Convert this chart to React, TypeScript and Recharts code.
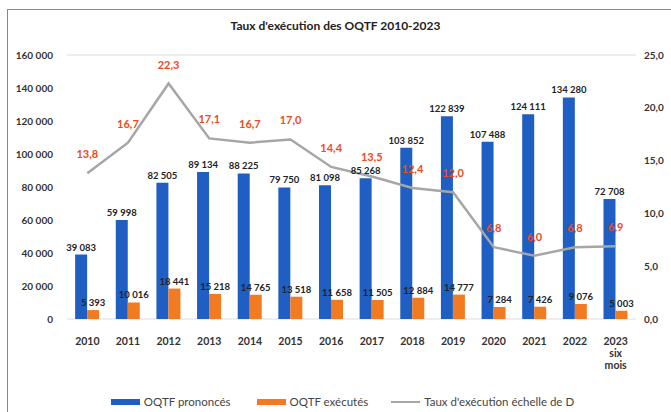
import React from 'react';
import {
  ComposedChart,
  Bar,
  Line,
  XAxis,
  YAxis,
  CartesianGrid,
  Legend,
  LabelList,
} from 'recharts';

const years = [
  '2010', '2011', '2012', '2013', '2014', '2015', '2016',
  '2017', '2018', '2019', '2020', '2021', '2022', '2023 six mois',
];
const prononces = [
  39083, 59998, 82505, 89134, 88225, 79750, 81098,
  85268, 103852, 122839, 107488, 124111, 134280, 72708,
];
const executes = [
  5393, 10016, 18441, 15218, 14765, 13518, 11658,
  11505, 12884, 14777, 7284, 7426, 9076, 5003,
];
const taux = [13.8, 16.7, 22.3, 17.1, 16.7, 17.0, 14.4, 13.5, 12.4, 12.0, 6.8, 6.0, 6.8, 6.9];

const leftTicks = [0, 20000, 40000, 60000, 80000, 100000, 120000, 140000, 160000];
const rightTicks = [0, 5, 10, 15, 20, 25];

const BLUE = '#1F5EC2';
const ORANGE = '#F27A21';
const GREY = '#A6A6A6';
const RED = '#EE4A22';
const FONT = 'Lato, "Liberation Sans", sans-serif';

const data = years.map((y, i) => ({
  year: y,
  prononces: prononces[i],
  executes: executes[i],
  taux: taux[i],
}));

const fmtNum = (v: any) => String(v).replace(/\B(?=(\d{3})+(?!\d))/g, ' ');
const fmtRate = (v: any) => Number(v).toFixed(1).replace('.', ',');

// labels drawn by hand so Recharts does not wrap "39 083" inside the bar width
const barLabel = (p: any) => (
  <text x={p.x + p.width / 2} y={p.y - 4} textAnchor="middle" fontSize={9.5} fontWeight={700} fill="#222" fontFamily={FONT}>
    {fmtNum(p.value)}
  </text>
);
const rateLabel = (p: any) => (
  <text x={p.x} y={p.y - 15} textAnchor="middle" fontSize={11} fontWeight={700} fill={RED} fontFamily={FONT}>
    {fmtRate(p.value)}
  </text>
);

const YearTick = (props: any) => {
  const { x, y, payload } = props;
  const lines = String(payload.value).split(' ');
  return (
    <text x={x} y={y + 18} textAnchor="middle" fontSize={10.5} fontWeight={700} fill="#333" fontFamily={FONT}>
      {lines.map((l, i) => (
        <tspan key={i} x={x} dy={i === 0 ? 0 : 12}>{l}</tspan>
      ))}
    </text>
  );
};

const LegendContent = () => {
  const items = [
    { label: 'OQTF prononcés', color: BLUE, kind: 'rect', gap: 26 },
    { label: 'OQTF exécutés', color: ORANGE, kind: 'rect', gap: 23 },
    { label: "Taux d'exécution échelle de D", color: GREY, kind: 'line', gap: 0 },
  ];
  return (
    <div style={{ display: 'flex', justifyContent: 'center', fontFamily: FONT, fontSize: 11.5, color: '#444', paddingLeft: 14 }}>
      {items.map((it) => (
        <div key={it.label} style={{ display: 'flex', alignItems: 'center', gap: 4, marginRight: it.gap }}>
          <div style={{ width: 29, height: it.kind === 'rect' ? 6 : 2, background: it.color }} />
          <span>{it.label}</span>
        </div>
      ))}
    </div>
  );
};

export default function App() {
  return (
    <div style={{ position: 'absolute', left: 0, top: 0, width: 671, height: 412, background: '#fff', overflow: 'hidden' }}>
      <div style={{ position: 'absolute', left: 7, top: 9, width: 700, height: 420, borderLeft: '1px solid #888', borderTop: '1px solid #888' }} />
      <div style={{ position: 'absolute', left: 0, top: 18, width: 671, textAlign: 'center', fontFamily: FONT, fontWeight: 700, fontSize: 12, color: '#222' }}>
        Taux d'exécution des OQTF 2010-2023
      </div>
      <ComposedChart
        width={671}
        height={412}
        data={data}
        margin={{ top: 55, right: 0, left: 0, bottom: 4 }}
        barCategoryGap="20%"
        barGap={0}
      >
        <CartesianGrid vertical={false} stroke="#DCDCDC" />
        <XAxis dataKey="year" axisLine={false} tickLine={false} interval={0} height={76} tick={<YearTick />} />
        <YAxis
          yAxisId="left"
          width={67}
          domain={[0, 160000]}
          ticks={leftTicks}
          tickFormatter={fmtNum}
          axisLine={false}
          tickLine={false}
          dx={-6}
          tick={{ fontSize: 10, fontWeight: 700, fill: '#333', fontFamily: FONT }}
        />
        <YAxis
          yAxisId="right"
          orientation="right"
          width={35}
          domain={[0, 25]}
          ticks={rightTicks}
          tickFormatter={fmtRate}
          axisLine={false}
          tickLine={false}
          tick={{ fontSize: 10, fontWeight: 700, fill: '#333', fontFamily: FONT }}
        />
        <Legend verticalAlign="bottom" content={<LegendContent />} />
        <Bar yAxisId="left" dataKey="prononces" fill={BLUE} isAnimationActive={false}>
          <LabelList dataKey="prononces" content={barLabel} />
        </Bar>
        <Bar yAxisId="left" dataKey="executes" fill={ORANGE} isAnimationActive={false}>
          <LabelList dataKey="executes" content={barLabel} />
        </Bar>
        <Line
          yAxisId="right"
          dataKey="taux"
          stroke={GREY}
          strokeWidth={2.5}
          dot={false}
          isAnimationActive={false}
        >
          <LabelList dataKey="taux" content={rateLabel} />
        </Line>
      </ComposedChart>
    </div>
  );
}
